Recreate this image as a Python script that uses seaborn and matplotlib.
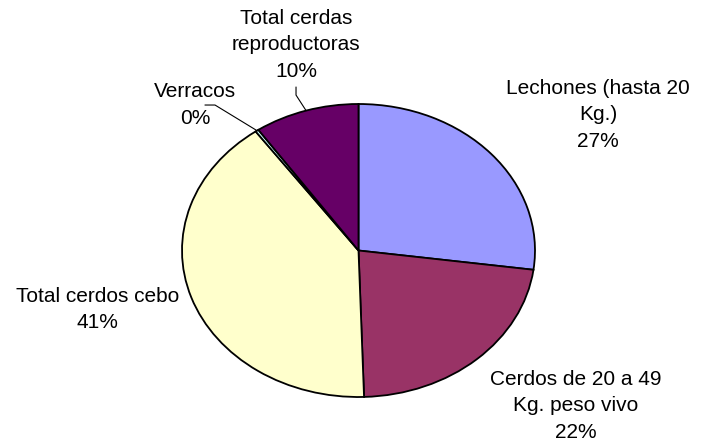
import matplotlib
matplotlib.use("Agg")
import matplotlib.pyplot as plt
import numpy as np
import seaborn as sns

# Pig census by category (share of total head, %)
categories = [
    "Lechones (hasta 20\nKg.)",
    "Cerdos de 20 a 49\nKg. peso vivo",
    "Total cerdos cebo",
    "Verracos",
    "Total cerdas\nreproductoras",
]
shares = [27.1, 22.4, 40.6, 0.3, 9.6]
colors = ["#9999FF", "#993366", "#FFFFCC", "#CCFFFF", "#660066"]

# Label anchor positions (data units, pie radius = 1)
label_pos = [(1.357, 0.925), (1.229, -1.061), (-1.479, -0.403),
             (-0.926, 0.993), (-0.354, 1.403)]
# Leader-line elbows for the small slices (index -> list of points)
leader_elbows = {3: [(-0.870, 0.993), (-0.813, 0.993)],
                 4: [(-0.354, 1.116), (-0.354, 1.061)]}

sns.set_theme(style="white")
plt.rcParams["font.family"] = ["Liberation Sans", "DejaVu Sans"]

fig = plt.figure(figsize=(7.02, 4.41), dpi=100)
ax = fig.add_axes([0, 0, 1, 1])

wedges, _ = ax.pie(
    shares,
    colors=colors,
    startangle=90,
    counterclock=False,
    radius=1.0,
    wedgeprops=dict(edgecolor="black", linewidth=1.3),
)

# Stretch the pie into the wide ellipse of the layout
ax.set_aspect("auto")
ax.set_xlim(-2.0312, 1.9462)
ax.set_ylim(-1.3003, 1.7099)
ax.axis("off")

for i, (name, val) in enumerate(zip(categories, shares)):
    x, y = label_pos[i]
    ax.text(x, y, f"{name}\n{round(val)}%", ha="center", va="center",
            fontsize=15, color="black", linespacing=1.5)

# Leader lines from labels to the slice edges
for i, pts in leader_elbows.items():
    w = wedges[i]
    mid = np.deg2rad((w.theta1 + w.theta2) / 2)
    edge = (np.cos(mid), np.sin(mid))
    xs = [p[0] for p in pts] + [edge[0]]
    ys = [p[1] for p in pts] + [edge[1]]
    ax.plot(xs, ys, color="black", linewidth=0.8)

fig.savefig("out.png", dpi=100)
